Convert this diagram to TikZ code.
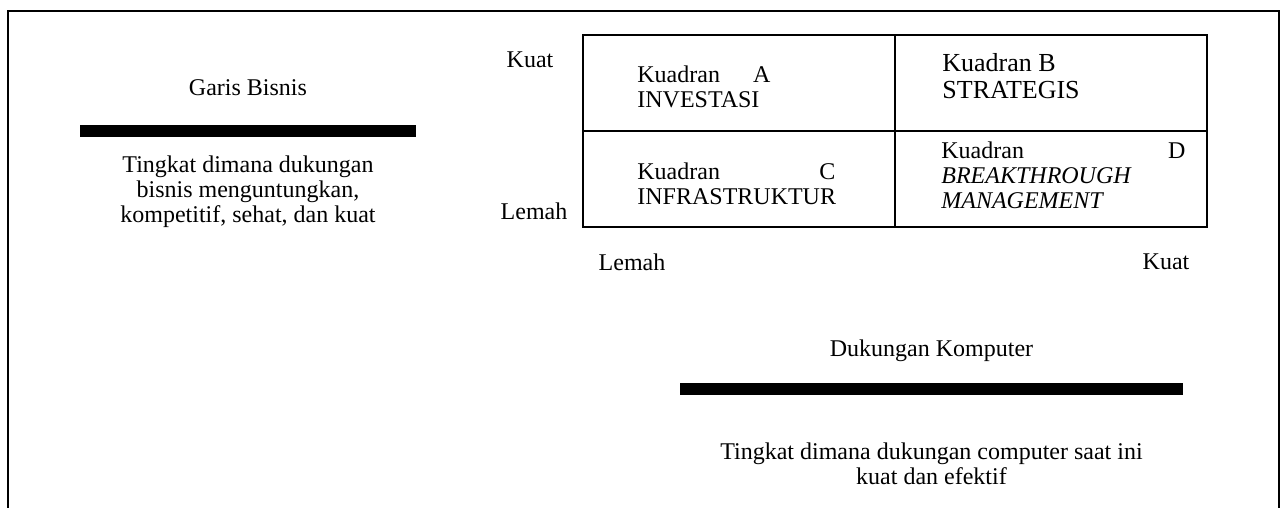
\documentclass[tikz,border=0pt]{standalone}
\usepackage{fontspec}
\setmainfont{Liberation Serif}
\usetikzlibrary{positioning}

\begin{document}
\begin{tikzpicture}[
    x=0.5pt, y=-0.5pt,
    every node/.style={font=\fontsize{12}{12.5}\selectfont},
    cell/.style={
        draw,
        line width=1pt,
        minimum width=156pt,
        minimum height=48pt,
        inner sep=0pt,
        outer sep=0pt
    },
    bar/.style={fill=black, inner sep=0pt, minimum height=6pt},
    txt/.style={align=center, inner sep=0pt},
    quad/.style={align=left, inner sep=0pt, anchor=west}
]
\useasboundingbox (0,0) rectangle (1284,508);

% Outer frame (open at the bottom)
\draw[line width=1pt] (7.5,508) -- (7.5,11) -- (1279,11) -- (1279,508);

% Matrix of the four quadrants
\node[cell] (qa) at (739,83) {};
\node[cell, right=0pt of qa] (qb) {};
\node[cell, below=0pt of qa] (qc) {};
\node[cell, right=0pt of qc] (qd) {};

% Quadrant texts
\node[quad, text width=66.5pt] (ta) at (637,87) {Kuadran\hfill A\\INVESTASI};
\node[quad, font=\fontsize{13}{13.5}\selectfont] (tb) at (942,76) {Kuadran B\\STRATEGIS};
\node[quad, text width=99pt] (tc) at (637,184) {Kuadran\hfill C\\INFRASTRUKTUR};
\node[quad, text width=122pt] (td) at (941,175)
    {Kuadran\hfill D\\\textit{BREAKTHROUGH}\\\textit{MANAGEMENT}};

% Axis labels
\node (kuaty)  at (530,60)  {Kuat};
\node (lemahy) at (534,211) {Lemah};
\node (lemahx) at (632,262) {Lemah};
\node (kuatx)  at (1166,262) {Kuat};

% Business line (left)
\node[bar, minimum width=168pt] (barbisnis) at (248,131) {};
\node[txt, above=14pt of barbisnis] (garis) {Garis Bisnis};
\node[txt, below=9pt of barbisnis] (desbisnis)
    {Tingkat dimana dukungan\\bisnis menguntungkan,\\kompetitif, sehat, dan kuat};

% Computer support (bottom)
\node[bar, minimum width=251.5pt] (barkomp) at (931.5,389) {};
\node[txt, above=10.5pt of barkomp] (dukungan) {Dukungan Komputer};
\node[txt, below=23.5pt of barkomp] (deskomp)
    {Tingkat dimana dukungan computer saat ini\\kuat dan efektif};

\end{tikzpicture}
\end{document}
